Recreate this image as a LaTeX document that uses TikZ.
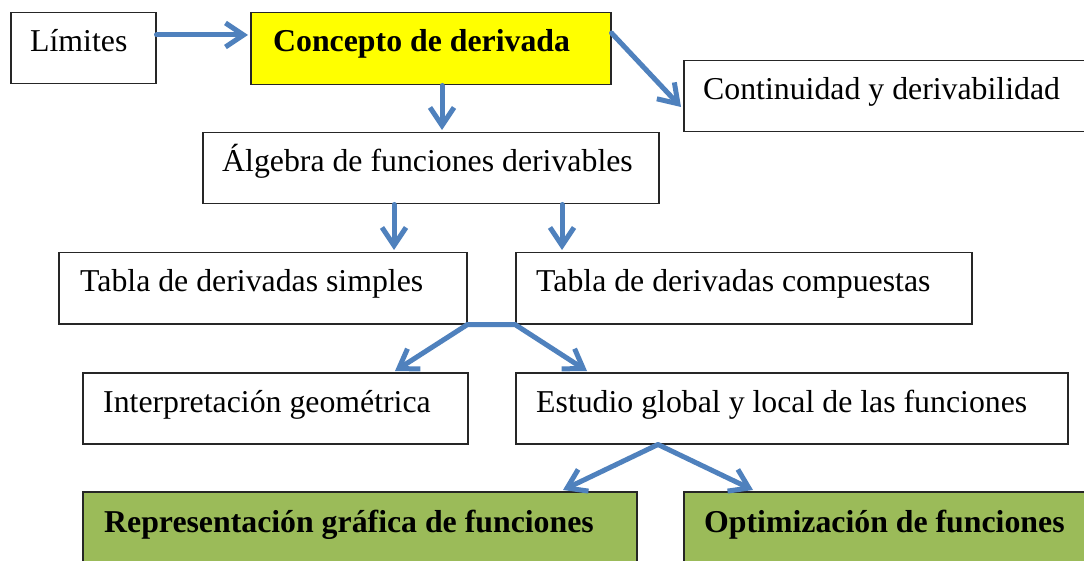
\documentclass[tikz,border=0pt]{standalone}
\usepackage{fontspec}
\setmainfont{Liberation Serif}
\usetikzlibrary{arrows.meta,calc}
\definecolor{arrblue}{HTML}{4F81BD}
\definecolor{boxgreen}{HTML}{9BBB59}
\definecolor{boxyellow}{HTML}{FFFF00}
\begin{document}
\begin{tikzpicture}[x=1pt,y=-1pt,
  box/.style={draw=black!85, line width=1.5pt, fill=white, inner sep=0pt, anchor=north west},
  lbl/.style={anchor=base west, inner sep=0pt, font=\fontsize{31.8}{38}\selectfont},
  blbl/.style={lbl, font=\fontsize{31.8}{38}\selectfont\bfseries},
  arr/.style={draw=arrblue, line width=5pt, line cap=round, line join=round,
    -{Straight Barb[length=18pt,width=24pt]}},
  arrb/.style={draw=arrblue, line width=5pt, line cap=round, line join=round,
    {Straight Barb[length=18pt,width=24pt]}-{Straight Barb[length=18pt,width=24pt]}}
]
\useasboundingbox (0,0) rectangle (1084,561);
\clip (0,0) rectangle (1084,561);
\fill[white] (0,0) rectangle (1084,561);

% boxes
\node[box, minimum width=145pt, minimum height=71pt] (lim) at (10,12) {};
\node[box, fill=boxyellow, minimum width=360pt, minimum height=72pt] (conc) at (250,12) {};
\node[box, minimum width=407pt, minimum height=71pt] (cont) at (683,60) {};
\node[box, minimum width=456pt, minimum height=71pt] (alg) at (202,132) {};
\node[box, minimum width=408pt, minimum height=71pt] (ts) at (58,252) {};
\node[box, minimum width=456pt, minimum height=71pt] (tc) at (515,252) {};
\node[box, minimum width=385pt, minimum height=71pt] (ip) at (82,372) {};
\node[box, minimum width=552pt, minimum height=71pt] (est) at (515,372) {};
\node[box, fill=boxgreen, minimum width=554pt, minimum height=80pt] (rep) at (82,491) {};
\node[box, fill=boxgreen, minimum width=407pt, minimum height=80pt] (opt) at (683,491) {};

% texts
\node[lbl] (limT) at ($(lim.north west)+(20,40)$) {Límites};
\node[blbl] (concT) at ($(conc.north west)+(23,40)$) {Concepto de derivada};
\node[lbl] (contT) at ($(cont.north west)+(20,40)$) {Continuidad y derivabilidad};
\node[lbl] (algT) at ($(alg.north west)+(20,40)$) {Álgebra de funciones derivables};
\node[lbl] (tsT) at ($(ts.north west)+(22,40)$) {Tabla de derivadas simples};
\node[lbl] (tcT) at ($(tc.north west)+(21,40)$) {Tabla de derivadas compuestas};
\node[lbl] (ipT) at ($(ip.north west)+(21,40)$) {Interpretación geométrica};
\node[lbl] (estT) at ($(est.north west)+(21,40)$) {Estudio global y local de las funciones};
\node[blbl] (repT) at ($(rep.north west)+(22,41)$) {Representación gráfica de funciones};
\node[blbl] (optT) at ($(opt.north west)+(21,41)$) {Optimización de funciones};

% connectors
\draw[arr] ($(lim.north east)+(0,23)$) -- ($(conc.north west)+(-2,23)$);
\draw[arr] ($(conc.north east)+(0,21)$) -- ($(cont.north west)+(-2,47)$);
\draw[arr] ($(conc.south west)+(192,0)$) -- ($(alg.north west)+(240,-2)$);
\draw[arr] ($(alg.south west)+(192,0)$) -- ($(ts.north west)+(336,-2)$);
\draw[arr] ($(alg.south west)+(360,0)$) -- ($(tc.north west)+(47,-2)$);
\draw[arrb] ($(ip.north west)+(313,-1)$) -- (ts.south east) -- (tc.south west) -- ($(est.north west)+(72,-1)$);
\draw[arrb] ($(rep.north west)+(481,-1)$) -- ($(est.south west)+(143,0)$) -- ($(opt.north west)+(70,-1)$);
\end{tikzpicture}
\end{document}
